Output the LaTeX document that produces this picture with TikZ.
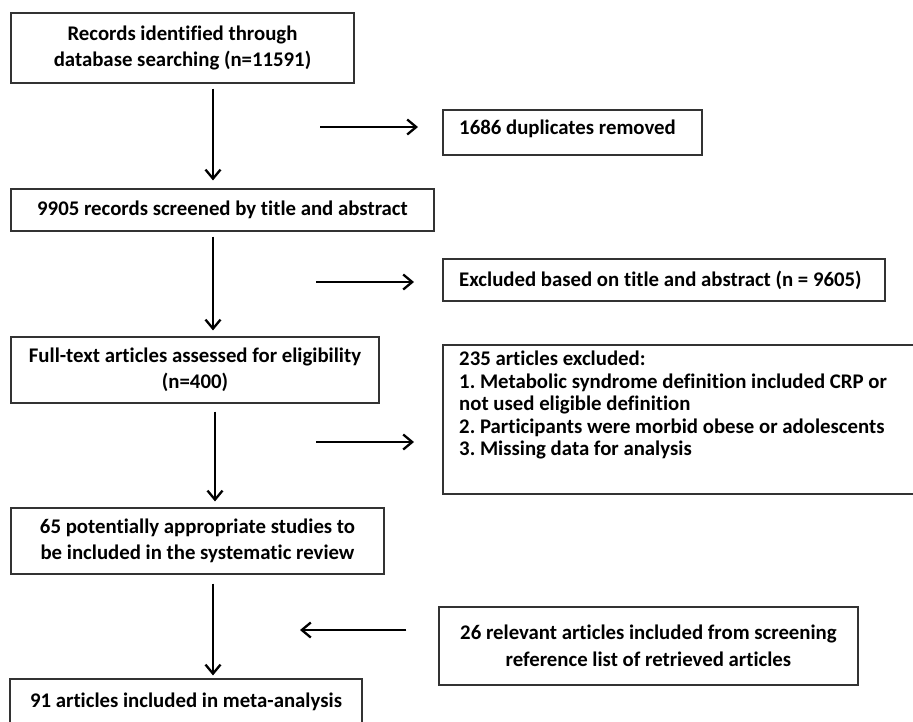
\documentclass[tikz,border=0pt]{standalone}
\usepackage{fontspec}
\setmainfont{Carlito}[Ligatures=NoCommon]
\usetikzlibrary{arrows.meta}
\frenchspacing

\begin{document}
\begin{tikzpicture}[x=1pt, y=-1pt,
  box/.style={draw=black!80, line width=1.2pt, align=center, inner sep=0pt,
    font=\bfseries\fontsize{20.8}{26.5}\selectfont},
  sidetext/.style={anchor=west, align=flush left, inner xsep=16pt, inner ysep=0pt,
    font=\bfseries\fontsize{20.8}{22.5}\selectfont},
  frame/.style={draw=black!80, line width=1.2pt},
  arr/.style={-{Straight Barb[length=9pt, width=15pt]}, line width=2.3pt}]

  \useasboundingbox (0,0) rectangle (913,721);

  % main column
  \node[box, minimum width=343pt, minimum height=70pt] (rec) at (182.5, 48) {Records identified through\\database searching (n=11591)};
  \node[box, minimum width=423pt, minimum height=42pt] (scr) at (222.5, 210) {9905 records screened by title and abstract};
  \node[box, minimum width=368pt, minimum height=66pt] (full) at (195, 370) {Full-text articles assessed for eligibility\\(n=400)};
  \node[box, minimum width=373pt, minimum height=66pt] (pot) at (197.5, 541) {65 potentially appropriate studies to\\be included in the systematic review};
  \node[box, minimum width=352pt, minimum height=46pt] (meta) at (186, 702) {91 articles included in meta-analysis};

  % side boxes
  \node[sidetext] (dup) at (443, 129) {1686 duplicates removed};
  \draw[frame] (443, 110) rectangle ++(259, 45);
  \node[sidetext] (exc) at (443, 280) {Excluded based on title and abstract (n = 9605)};
  \draw[frame] (443, 259) rectangle ++(442, 42);
  \node[sidetext] (art) at (443, 405) {235 articles excluded:\\1. Metabolic syndrome definition included CRP or\\not used eligible definition\\2. Participants were morbid obese or adolescents\\3. Missing data for analysis};
  \draw[frame] (443, 345) rectangle ++(500, 149);
  \node[box, minimum width=419pt, minimum height=78pt] (ref) at (648.5, 646) {26 relevant articles included from screening\\reference list of retrieved articles};

  % arrow ends
  \coordinate (s1) at (213, 0);
  \coordinate (s2) at (215, 0);
  \coordinate (h1) at (320, 127);
  \coordinate (h2) at (316, 282);
  \coordinate (h3) at (316, 442);
  \coordinate (h4) at (300, 630);

  \draw[arr, shorten <=5pt, shorten >=8pt] (rec.south -| s1) -- (scr.north -| s1);
  \draw[arr, shorten <=5pt, shorten >=6pt] (scr.south -| s1) -- (full.north -| s1);
  \draw[arr, shorten <=8pt, shorten >=6pt] (full.south -| s2) -- (pot.north -| s2);
  \draw[arr, shorten <=9pt, shorten >=3pt] (pot.south -| s1) -- (meta.north -| s1);

  \draw[arr, shorten >=25pt] (h1) -- (h1 -| dup.west);
  \draw[arr, shorten >=29pt] (h2) -- (h2 -| exc.west);
  \draw[arr, shorten >=29pt] (h3) -- (h3 -| art.west);
  \draw[arr, shorten <=32pt] (h4 -| ref.west) -- (h4);

\end{tikzpicture}
\end{document}
